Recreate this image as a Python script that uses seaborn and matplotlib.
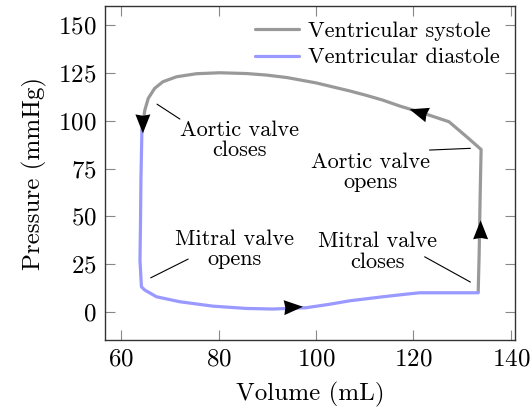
import numpy as np
import pandas as pd
import matplotlib
matplotlib.use("Agg")
import matplotlib.pyplot as plt
from matplotlib.patches import Polygon
import seaborn as sns

# ---- data ----
systole_vol = [133.3, 133.5, 133.7, 133.9, 131.0, 127.3, 122.0, 117.2, 113.7, 110.3, 106.9, 100.0,
               94.0, 89.8, 85.7, 80.2, 75.4, 71.3, 68.5, 66.8, 65.5, 64.8, 64.4, 64.2]
systole_p = [10.4, 30.0, 60.0, 85.0, 91.5, 99.5, 104.0, 107.7, 110.8, 113.3, 115.6, 119.8,
             122.6, 123.9, 124.7, 125.1, 124.6, 123.0, 120.4, 116.9, 111.7, 105.6, 98.6, 95.0]

diastole_vol = [64.2, 64.0, 63.9, 63.8, 64.1, 64.8, 67.2, 72.0, 78.8, 85.7, 91.1, 98.0, 102.8,
                106.9, 113.7, 118.6, 121.3, 127.0, 133.3]
diastole_p = [95.0, 70.0, 45.0, 27.0, 13.2, 11.5, 8.0, 5.4, 3.1, 1.9, 1.6, 2.3, 4.1,
              5.9, 8.0, 9.4, 10.1, 10.1, 10.1]

series_labels = ["Ventricular systole", "Ventricular diastole"]
x_ticks = [60, 80, 100, 120, 140]
y_ticks = [0, 25, 50, 75, 100, 125, 150]

annot_texts = ["Aortic valve\ncloses", "Aortic valve\nopens", "Mitral valve\nopens", "Mitral valve\ncloses"]
annot_xy = [(84.3, 89.9), (111.2, 73.2), (83.3, 32.9), (112.7, 31.6)]
leader_lines = [((72.0, 100.9), (67.3, 108.7)),
                ((123.3, 84.7), (131.7, 85.6)),
                ((73.7, 27.7), (66.0, 17.9)),
                ((122.3, 28.9), (131.7, 15.7))]
# arrows: (tail point, tip point)
arrows = [((64.4, 110.0), (64.4, 93.4)),
          ((127.3, 99.5), (119.2, 106.0)),
          ((90.0, 1.9), (97.3, 2.8)),
          ((133.8, 30.0), (133.8, 48.0))]

# ---- style ----
sns.set_theme(style="ticks")
plt.rcParams["font.family"] = ["cmr10", "DejaVu Serif"]
plt.rcParams["axes.formatter.use_mathtext"] = True
plt.rcParams["mathtext.fontset"] = "cm"
plt.rcParams["text.color"] = "black"
plt.rcParams["axes.labelcolor"] = "black"
plt.rcParams["xtick.labelcolor"] = "black"
plt.rcParams["ytick.labelcolor"] = "black"

gray = "#999999"
blue = "#9999ff"

fig = plt.figure(figsize=(5.3, 4.11), dpi=100)
ax = fig.add_axes([0.198, 0.1727, 0.774, 0.8127])

df_s = pd.DataFrame({"vol": systole_vol, "p": systole_p})
df_d = pd.DataFrame({"vol": diastole_vol, "p": diastole_p})
sns.lineplot(data=df_s, x="vol", y="p", sort=False, estimator=None, color=gray,
             lw=2.3, ax=ax, label=series_labels[0])
sns.lineplot(data=df_d, x="vol", y="p", sort=False, estimator=None, color=blue,
             lw=2.3, ax=ax, label=series_labels[1])

ax.set_xlim(56.6, 140.9)
ax.set_ylim(-14.6, 160)
ax.set_xticks(x_ticks)
ax.set_yticks(y_ticks)
ax.set_xlabel("Volume (mL)", fontsize=18, labelpad=8)
ax.set_ylabel("Pressure (mmHg)", fontsize=18, labelpad=8)
ax.tick_params(direction="in", length=7, width=0.8, color="#888888",
               top=True, right=True, labelsize=18, pad=6, labelcolor="black")
for s in ax.spines.values():
    s.set_color("#333333")
    s.set_linewidth(1.0)

leg = ax.legend(loc="upper right", frameon=False, fontsize=16, handlelength=2.0,
                handletextpad=0.4, labelspacing=0.3, borderaxespad=0.3)
for t in leg.get_texts():
    t.set_color("black")

for (a, b) in leader_lines:
    ax.plot([a[0], b[0]], [a[1], b[1]], color="black", lw=0.8)
for t, (x, y) in zip(annot_texts, annot_xy):
    ax.text(x, y, t, ha="center", va="center", multialignment="center",
            fontsize=16, linespacing=1.05, color="black")

def add_arrow(tail, tip, L=19, W=15):
    pt = ax.transData.transform(tip)
    pf = ax.transData.transform(tail)
    d = pt - pf
    d = d / np.hypot(*d)
    n = np.array([-d[1], d[0]])
    base = pt - d * L
    verts = [pt, base + n * W / 2, pt - d * L * 0.93, base - n * W / 2]
    vd = ax.transData.inverted().transform(np.array(verts))
    ax.add_patch(Polygon(vd, closed=True, facecolor="black", edgecolor="none", zorder=5))

for tail, tip in arrows:
    add_arrow(tail, tip)

fig.savefig("out.png", dpi=100)
